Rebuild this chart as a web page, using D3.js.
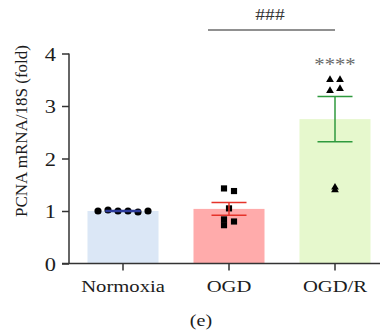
<!DOCTYPE html>
<html><head><meta charset="utf-8">
<script src="https://cdn.jsdelivr.net/npm/d3@7"></script>
<style>body{margin:0;background:#fff}svg{display:block}text{font-family:"Liberation Serif","Times New Roman",serif !important}</style>
</head><body>
<svg id="c" width="380" height="334"></svg>
<script>
const categories = ["Normoxia", "OGD", "OGD/R"];
const means = [1.0, 1.04, 2.75];
const sems = [0.01, 0.12, 0.43];
const pointsNormoxia = [1.0, 1.02, 1.0, 1.0, 0.98, 1.0];
const pointsOGD = [1.43, 1.38, 1.05, 0.84, 0.73, 0.80];
const pointsOGDR = [3.50, 3.50, 3.29, 3.33, 1.45, 1.40];
const yTicks = [0, 1, 2, 3, 4];
const barColors = ["#dbe7f6", "#ffabab", "#e6f8cd"];
const errColors = ["#2e3d9c", "#e5332a", "#2f9a3e"];
const markerTypes = ["circle", "square", "triangle"];
const jitter = [[-25, -15, -5, 5, 15, 25], [-5, 5, 0, -5, -5, 5], [-5, 5, -5, 5, 0, 0]];
const allPoints = [pointsNormoxia, pointsOGD, pointsOGDR];

const svg = d3.select("#c");
const x = d3.scaleBand().domain(categories).range([70, 388]).paddingInner(0.33).paddingOuter(0.165);
const y = d3.scaleLinear().domain([0, 4]).range([263.5, 53.5]);
const axisColor = "#333";
const textColor = "#1c1c1c";
const sx = 1.15;

// bars
svg.selectAll("rect.bar").data(categories).join("rect")
  .attr("x", d => x(d)).attr("width", x.bandwidth())
  .attr("y", (d, i) => y(means[i])).attr("height", (d, i) => y(0) - y(means[i]))
  .attr("fill", (d, i) => barColors[i]);

// points
const sym = {circle: d3.symbolCircle, square: d3.symbolSquare, triangle: d3.symbolTriangle};
const symSize = {circle: 40, square: 38, triangle: 26};
categories.forEach((c, i) => {
  const cx = x(c) + x.bandwidth() / 2;
  svg.append("g").selectAll("path").data(allPoints[i]).join("path")
    .attr("d", d3.symbol(sym[markerTypes[i]], symSize[markerTypes[i]]))
    .attr("transform", (d, j) => `translate(${cx + jitter[i][j]},${y(d)})`)
    .attr("fill", "#000");
});

// error bars
categories.forEach((c, i) => {
  const cx = x(c) + x.bandwidth() / 2;
  const g = svg.append("g").attr("stroke", errColors[i]).attr("stroke-width", 1.5);
  const hw = 17.5;
  g.append("line").attr("x1", cx).attr("x2", cx).attr("y1", y(means[i] + sems[i])).attr("y2", y(means[i] - sems[i]));
  [means[i] + sems[i], means[i] - sems[i]].forEach(v => {
    g.append("line").attr("x1", cx - hw).attr("x2", cx + hw).attr("y1", y(v)).attr("y2", y(v));
  });
  if (i === 0) g.append("line").attr("x1", cx - hw).attr("x2", cx + hw).attr("y1", y(means[i])).attr("y2", y(means[i]));
});

// axes
const yAxis = svg.append("g").attr("transform", "translate(69,0)")
  .call(d3.axisLeft(y).tickValues(yTicks).tickSize(7).tickPadding(6).tickFormat(d3.format("d")));
yAxis.attr("font-family", null).attr("font-size", null);
yAxis.select(".domain").attr("stroke", axisColor).attr("stroke-width", 1.5).attr("d", `M0,${y(4)}V${y(0)}`);
yAxis.selectAll(".tick line").attr("stroke", axisColor).attr("stroke-width", 1.5);
yAxis.selectAll(".tick text").attr("fill", textColor).style("font-size", "19.5px").attr("dy", "0.34em")
  .attr("transform", `scale(${sx},1)`).attr("x", -13 / sx);

const xAxis = svg.append("g").attr("transform", `translate(0,${y(0)})`)
  .call(d3.axisBottom(x).tickSize(7).tickPadding(6).tickSizeOuter(0));
xAxis.attr("font-family", null).attr("font-size", null);
xAxis.select(".domain").attr("stroke", axisColor).attr("stroke-width", 1.5).attr("d", "M62,0H380");
xAxis.selectAll(".tick line").attr("stroke", axisColor).attr("stroke-width", 1.5);
xAxis.selectAll(".tick text").attr("fill", textColor).style("font-size", "17.5px")
  .attr("transform", "scale(1.18,1)").attr("dy", "0.9em");

// y label
svg.append("text").attr("transform", "translate(27,131) rotate(-90)")
  .attr("text-anchor", "middle").style("font-size", "17px").attr("fill", textColor)
  .text("PCNA mRNA/18S (fold)");

// significance
svg.append("line").attr("x1", 208).attr("x2", x("OGD/R") + x.bandwidth() / 2)
  .attr("y1", 30).attr("y2", 30).attr("stroke", "#222").attr("stroke-width", 1.2);
svg.append("text").attr("transform", `translate(270,20) scale(${sx},1)`).attr("text-anchor", "middle")
  .style("font-size", "17px").attr("fill", "#333").text("###");
svg.append("text").attr("transform", `translate(${x("OGD/R") + x.bandwidth() / 2},71) scale(${sx},1)`)
  .attr("text-anchor", "middle").style("font-size", "18px").attr("fill", "#6a6a6a").text("****");

svg.append("text").attr("transform", `translate(201,326) scale(1.18,1)`).attr("text-anchor", "middle")
  .style("font-size", "17px").attr("fill", textColor).text("(e)");
</script>
</body></html>
